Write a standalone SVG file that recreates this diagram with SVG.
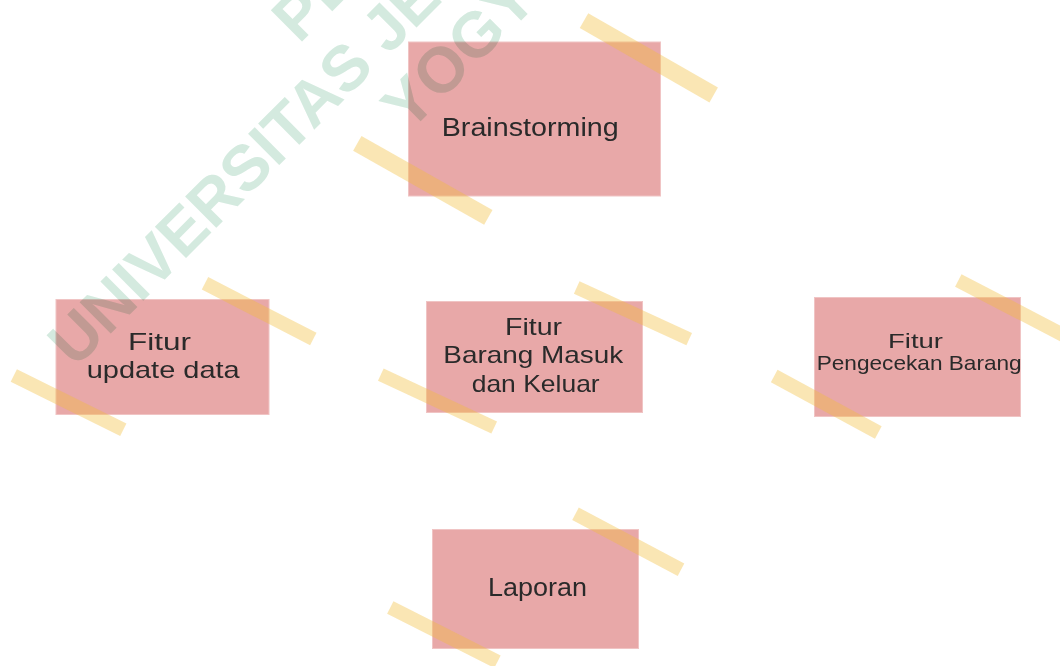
<svg xmlns="http://www.w3.org/2000/svg" width="1060" height="666" viewBox="0 0 1060 666">
  <style>
    .box { fill: #e8a8a8; stroke: #f0c4c4; stroke-width: 1; }
    .lbl { font-family: "Liberation Sans", "Open Sans", sans-serif; fill: #2a2a2a; }
    .tape { stroke: #f2bd3a; stroke-opacity: 0.38; stroke-linecap: butt; fill: none; }
    .wm { font-family: "Liberation Sans", Arial, sans-serif; font-weight: bold; font-size: 64px; fill: #d4eadf; }
  </style>
  <rect x="0" y="0" width="1060" height="666" fill="#ffffff"/>

  <g id="connectors"/>

  <g id="node-brainstorming">
    <rect class="box" x="408.5" y="42" width="252" height="154"/>
    <text class="lbl" x="441.7" y="136" font-size="26" textLength="177" lengthAdjust="spacingAndGlyphs">Brainstorming</text>
  </g>

  <g id="node-update-data">
    <rect class="box" x="56" y="299.5" width="213" height="115"/>
    <text class="lbl" font-size="24">
      <tspan x="128" y="350" textLength="63" lengthAdjust="spacingAndGlyphs">Fitur</tspan>
      <tspan x="86.7" y="378.3" textLength="153" lengthAdjust="spacingAndGlyphs">update data</tspan>
    </text>
  </g>

  <g id="node-barang-masuk-keluar">
    <rect class="box" x="426.5" y="301.5" width="216" height="111"/>
    <text class="lbl" font-size="24">
      <tspan x="505" y="335" textLength="57" lengthAdjust="spacingAndGlyphs">Fitur</tspan>
      <tspan x="443.3" y="363.3" textLength="180" lengthAdjust="spacingAndGlyphs">Barang Masuk</tspan>
      <tspan x="471.7" y="391.7" textLength="128" lengthAdjust="spacingAndGlyphs">dan Keluar</tspan>
    </text>
  </g>

  <g id="node-pengecekan-barang">
    <rect class="box" x="814.5" y="297.5" width="206" height="119"/>
    <text class="lbl" font-size="21">
      <tspan x="888" y="348.3" textLength="55" lengthAdjust="spacingAndGlyphs">Fitur</tspan>
      <tspan x="816.7" y="370" textLength="205" lengthAdjust="spacingAndGlyphs">Pengecekan Barang</tspan>
    </text>
  </g>

  <g id="node-laporan">
    <rect class="box" x="432.5" y="529.5" width="206" height="119"/>
    <text class="lbl" x="488" y="595.7" font-size="26" textLength="99" lengthAdjust="spacingAndGlyphs">Laporan</text>
  </g>

  <g id="tapes">
    <line class="tape" stroke-width="17" x1="584" y1="20.7" x2="713.7" y2="95"/>
    <line class="tape" stroke-width="17" x1="357.3" y1="143.3" x2="488.3" y2="217.3"/>
    <line class="tape" stroke-width="14" x1="205" y1="283.3" x2="313.3" y2="339"/>
    <line class="tape" stroke-width="14" x1="13.8" y1="375.5" x2="123.3" y2="429.8"/>
    <line class="tape" stroke-width="13.5" x1="576.7" y1="287.5" x2="689.2" y2="339.2"/>
    <line class="tape" stroke-width="13.5" x1="380.8" y1="374.7" x2="494.2" y2="427.5"/>
    <line class="tape" stroke-width="14" x1="958.3" y1="280.5" x2="1069" y2="338"/>
    <line class="tape" stroke-width="14" x1="774.2" y1="376" x2="878.3" y2="432.5"/>
    <line class="tape" stroke-width="14" x1="575.5" y1="513.7" x2="681" y2="569.7"/>
    <line class="tape" stroke-width="14" x1="390.3" y1="607.5" x2="497.5" y2="661.7"/>
  </g>

  <g id="watermark" transform="rotate(-45)" style="mix-blend-mode: multiply">
    <text class="wm" x="180" y="243">PE</text>
    <text class="wm" x="-208" y="314">UNIVERSITAS JE</text>
    <text class="wm" x="195" y="383">YOGY</text>
  </g>
</svg>
